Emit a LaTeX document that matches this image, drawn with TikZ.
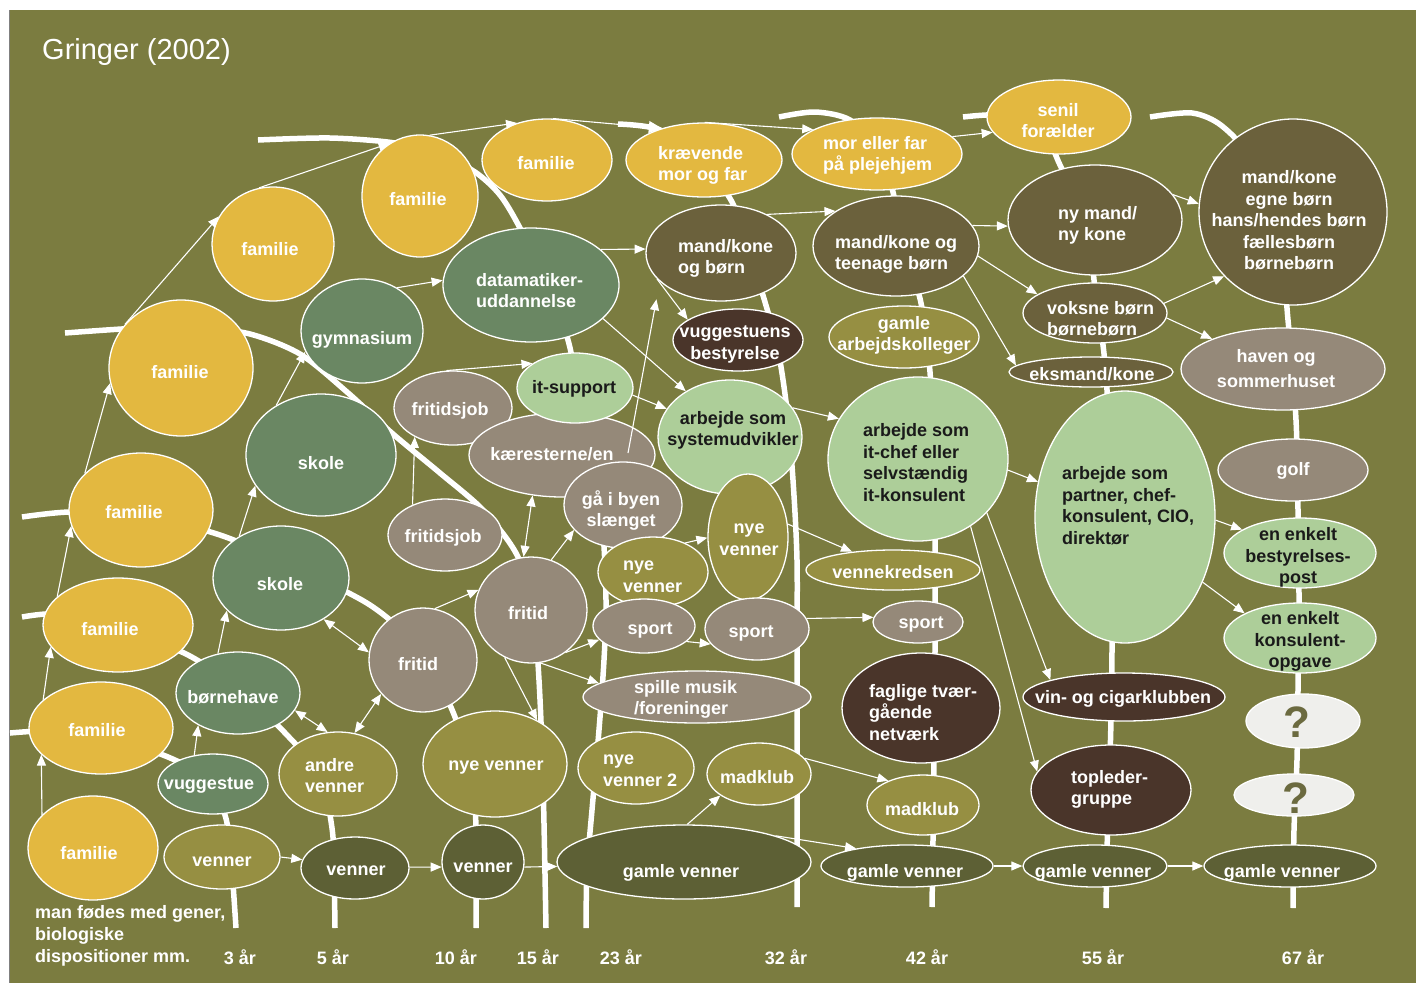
\documentclass[tikz,border=0pt]{standalone}
\usepackage{fontspec}
\setmainfont{Liberation Sans}
\usetikzlibrary{shapes.geometric,arrows.meta}
\definecolor{bg}{HTML}{7B7C40}
\definecolor{yel}{HTML}{E3B840}
\definecolor{sgr}{HTML}{6A8763}
\definecolor{tau}{HTML}{958979}
\definecolor{lgr}{HTML}{ADCE99}
\definecolor{dob}{HTML}{6B613C}
\definecolor{dbr}{HTML}{4A352A}
\definecolor{oly}{HTML}{968F42}
\definecolor{dol}{HTML}{5D6035}
\definecolor{qgr}{HTML}{EFEFEC}
\definecolor{qtx}{HTML}{6B6A3F}
\definecolor{tbk}{HTML}{1A1A1A}
\newcommand\ellnode[6]{\node[ell,fill=#6,minimum width=#4*2pt,minimum height=#5*2pt] (#1) at (#2,#3) {};}
\begin{document}
\begin{tikzpicture}[x=1pt,y=-1pt,
 ell/.style={ellipse,draw=white,line width=1.3pt,inner sep=0pt},
 txt/.style={text=white,font=\bfseries\fontsize{18}{21.5}\selectfont,inner sep=0pt,align=center,yshift=-2.5pt},
 txl/.style={txt,align=left,anchor=west},
 blk/.style={text=tbk},
 qtxt/.style={text=qtx,font=\bfseries\fontsize{44}{44}\selectfont,inner sep=0pt},
 arr/.style={draw=white,line width=1.1pt,-{Triangle[length=11pt,width=9pt]}},
 bigarr/.style={draw=white,line width=1.1pt,-{Triangle[length=13pt,width=12pt]}},
 darr/.style={draw=white,line width=1.1pt,{Triangle[length=11pt,width=9pt]}-{Triangle[length=11pt,width=9pt]}},
 age/.style={draw=white,line width=5.5pt},
 lab/.style={text=white,font=\bfseries\fontsize{18}{22}\selectfont,inner sep=0pt}]
\useasboundingbox (0,0) rectangle (1416,983);
\fill[white] (0,0) rectangle (1416,983);
\fill[bg] (9,10) rectangle (1416,983);
\draw[gray,line width=1pt] (9.5,10) -- (9.5,983);

% age lines
\draw[age] plot[smooth] coordinates {(10,733) (60,731) (120,742) (168,757) (205,778) (225,815) (231,858) (236,928)};
\draw[age] plot[smooth] coordinates {(22,617) (60,614) (120,628) (188,655) (240,690) (287,735) (320,775) (332,828) (334,870) (335,928)};
\draw[age] plot[smooth] coordinates {(22,517) (70,512) (140,515) (220,535) (290,565) (370,605) (420,650) (453,712) (472,775) (476,830) (476,928)};
\draw[age] plot[smooth] coordinates {(65,333) (140,328) (200,328) (250,334) (300,354) (347,392) (393,434) (440,473) (483,510) (517,555) (533,610) (539,680) (543,780) (546,928)};
\draw[age] plot[smooth] coordinates {(258,140) (330,138) (395,143) (440,155) (475,172) (500,195) (520,228) (548,285) (568,340) (578,390) (590,450) (602,520) (606,600) (604,660) (599,730) (592,810) (587,870) (586,928)};
\draw[age] plot[smooth] coordinates {(618,124) (660,130) (700,160) (732,202) (750,255) (765,302) (778,350) (787,410) (793,480) (797,560) (797,660) (797,907)};
\draw[age] plot[smooth] coordinates {(779,117) (815,112) (850,120) (880,150) (893,192) (905,250) (921,303) (930,372) (933,450) (935,540) (935,650) (934,760) (933,840) (932,907)};
\draw[age] plot[smooth] coordinates {(963,117) (1000,115) (1040,125) (1060,165) (1090,230) (1094,280) (1103,345) (1107,390) (1112,500) (1112,650) (1111,720) (1109,790) (1107,850) (1106,908)};
\draw[age] plot[smooth] coordinates {(1150,117) (1192,113) (1222,126) (1250,160) (1280,250) (1288,320) (1296,420) (1298,510) (1299,600) (1298,690) (1297,760) (1294,830) (1293,908)};

% ellipses
\ellnode{fA}{93}{848}{65}{52}{yel}
\ellnode{fB}{101}{728}{72}{46}{yel}
\ellnode{fC}{118}{625}{75}{47}{yel}
\ellnode{fD}{141}{510}{72}{57}{yel}
\ellnode{fE}{181}{368}{72}{68}{yel}
\ellnode{fF}{273}{244}{61}{57}{yel}
\ellnode{fG}{420}{196}{58}{61}{yel}
\ellnode{fH}{547}{160}{65}{41}{yel}
\ellnode{kraev}{704}{160}{78}{37}{yel}
\ellnode{moref}{877}{154}{85}{36}{yel}
\ellnode{senil}{1059}{117}{72}{37}{yel}
\ellnode{mkegne}{1293}{212}{94}{93}{dob}
\ellnode{vugg}{213}{784}{55}{30}{sgr}
\ellnode{born}{238}{693}{62}{41}{sgr}
\ellnode{skoleA}{281}{578}{68}{52}{sgr}
\ellnode{skoleB}{321}{455}{75}{61}{sgr}
\ellnode{gym}{362}{331}{61}{52}{sgr}
\ellnode{data}{531}{285}{88}{57}{sgr}
\ellnode{fjobA}{453}{408}{59}{37}{tau}
\ellnode{fjobB}{445}{535}{57}{36}{tau}
\ellnode{kaer}{562}{455}{93}{42}{tau}
\ellnode{itsup}{575}{388}{58}{35}{lgr}
\ellnode{gaa}{623}{505}{59}{43}{tau}
\ellnode{fritB}{531}{610}{56}{53}{tau}
\ellnode{fritA}{423}{660}{54}{52}{tau}
\ellnode{nyeB}{653}{572}{55}{35}{oly}
\ellnode{sportA}{644}{626}{51}{27}{tau}
\ellnode{sysud}{730}{437}{72}{57}{lgr}
\ellnode{nyeC}{748}{537}{40}{63}{oly}
\ellnode{sportB}{757}{629}{52}{31}{tau}
\ellnode{sportC}{918}{622}{45}{21}{tau}
\ellnode{spille}{697}{697}{114}{26}{tau}
\ellnode{haven}{1283}{369}{102}{41}{tau}
\ellnode{golf}{1293}{470}{75}{31}{tau}
\ellnode{itchef}{918}{459}{90}{82}{lgr}
\ellnode{partner}{1125}{517}{90}{126}{lgr}
\ellnode{best}{1300}{553}{76}{35}{lgr}
\ellnode{konsul}{1300}{638}{76}{35}{lgr}
\ellnode{mkborn}{721}{253}{75}{48}{dob}
\ellnode{teen}{896}{246}{83}{50}{dob}
\ellnode{nymand}{1095}{220}{87}{55}{dob}
\ellnode{voksne}{1095}{313}{72}{30}{dob}
\ellnode{eks}{1091}{372}{82}{15}{dob}
\ellnode{vbest}{738}{340}{65}{31}{dbr}
\ellnode{faglige}{921}{708}{79}{55}{dbr}
\ellnode{vin}{1124}{697}{101}{24}{dbr}
\ellnode{topl}{1111}{790}{80}{45}{dbr}
\ellnode{vennerA}{222}{857}{58}{32}{oly}
\ellnode{andre}{338}{774}{59}{42}{oly}
\ellnode{nyeA}{495}{764}{72}{53}{oly}
\ellnode{gamark}{904}{337}{75}{31}{oly}
\ellnode{vkreds}{893}{570}{87}{20}{oly}
\ellnode{nye2}{636}{768}{58}{36}{oly}
\ellnode{madA}{759}{774}{52}{31}{oly}
\ellnode{madB}{923}{805}{56}{30}{oly}
\ellnode{vennerB}{355}{868}{54}{31}{dol}
\ellnode{vennerC}{483}{862}{41}{37}{dol}
\ellnode{gamA}{684}{862}{127}{37}{dol}
\ellnode{gamB}{907}{866}{86}{21}{dol}
\ellnode{gamC}{1095}{866}{72}{21}{dol}
\ellnode{gamD}{1290}{866}{86}{21}{dol}
\ellnode{qA}{1303}{721}{57}{27}{qgr}
\ellnode{qB}{1294}{795}{60}{21}{qgr}

% arrows
\draw[arr] (fA.147) -- (fB.204);
\draw[arr] (fB.154) -- (fC.198);
\draw[arr] (fC.155) -- (fD.193);
\draw[arr] (fD.147) -- (fE.192);
\draw[arr] (fE.142) -- (fF.153);
\draw[arr] (fF.104) -- (fG.120);
\draw[arr] (fG.81) -- (fH.129);
\draw[bigarr] (fH.82) -- (kraev.143);
\draw[arr] (kraev.89) -- (moref.159);
\draw[arr] (moref.13) -- (senil.193);
\draw[arr] (nymand.18) -- (mkegne.175);
\draw[arr] (vugg.123) -- (born.219);
\draw[arr] (vennerA.0) -- (vennerB.171);
\draw[arr] (vennerB.1) -- (vennerC.187);
\draw[arr] (vennerC.353) -- (gamA.182);
\draw[arr] (gamA.85) -- (madA.209);
\draw[arr] (madA.19) -- (madB.145);
\draw[arr] (gamA.16) -- (gamB.161);
\draw[arr] (gamB.0) -- (gamC.180);
\draw[arr] (gamC.0) -- (gamD.180);
\draw[darr] (born.343) -- (andre.104);
\draw[darr] (andre.68) -- (fritA.219);
\draw[darr] (skoleA.316) -- (fritA.172);
\draw[arr] (born.117) -- (skoleA.211);
\draw[arr] (skoleA.135) -- (skoleB.205);
\draw[arr] (skoleB.132) -- (gym.200);
\draw[arr] (gym.51) -- (data.177);
\draw[arr] (fjobB.137) -- (fjobA.217);
\draw[arr] (fjobA.100) -- (itsup.150);
\draw[arr] (fritA.77) -- (fritB.159);
\draw[darr] (fritB.98) -- (kaer.234);
\draw[arr] (fritB.68) -- (gaa.207);
\draw[arr] (fritB.309) -- (sportA.197);
\draw[arr] (fritB.280) -- (spille.172);
\draw[arr] (fritB.241) -- (nyeA.46);
\draw[arr] (nyeB.42) -- (nyeC.181);
\draw[arr] (sportA.340) -- (sportB.198);
\draw[arr] (sportB.12) -- (sportC.174);
\draw[arr] (nyeC.18) -- (vkreds.156);
\draw[arr] (itsup.353) -- (sysud.156);
\draw[arr] (data.335) -- (sysud.134);
\draw[arr] (data.27) -- (mkborn.177);
\coordinate (kaerin) at (628,453);
\draw[arr,shorten >=18pt] (kaerin) -- (mkborn.205);
\draw[arr] (mkborn.202) -- (vbest.158);
\draw[arr] (mkborn.40) -- (teen.150);
\draw[arr] (sysud.25) -- (itchef.153);
\draw[arr] (teen.15) -- (nymand.184);
\draw[arr] (teen.353) -- (voksne.162);
\draw[arr] (teen.336) -- (eks.175);
\draw[arr] (voksne.8) -- (mkegne.223);
\draw[arr] (voksne.356) -- (haven.157);
\draw[arr] (itchef.353) -- (partner.158);
\draw[arr] (itchef.322) -- (vin.167);
\draw[arr] (itchef.308) -- (topl.166);
\draw[arr] (partner.358) -- (best.158);
\draw[arr] (partner.320) -- (konsul.156);

% texts
\node[anchor=west,text=white,font=\fontsize{29}{29}\selectfont,inner sep=0pt] (title) at (42,52) {Gringer (2002)};
\node[txt] (t1) at (89,851) {familie};
\node[txt] (t2) at (97,728) {familie};
\node[txt] (t3) at (110,627) {familie};
\node[txt] (t4) at (134,510) {familie};
\node[txt] (t5) at (180,370) {familie};
\node[txt] (t6) at (270,247) {familie};
\node[txt] (t7) at (418,197) {familie};
\node[txt] (t8) at (546,161) {familie};
\node[txl] (t9) at (658,163) {krævende\\mor og far};
\node[txl] (t10) at (823,153) {mor eller far\\på plejehjem};
\node[txt] (t11) at (1058,118) {senil\\forælder};
\node[txt] (t12) at (1289,218) {mand/kone\\egne børn\\hans/hendes børn\\fællesbørn\\børnebørn};
\node[txt] (t13) at (209,783) {vuggestue};
\node[txt] (t14) at (233,695) {børnehave};
\node[txt] (t15) at (280,582) {skole};
\node[txt] (t16) at (321,461) {skole};
\node[txt] (t17) at (362,337) {gymnasium};
\node[txl] (t18) at (476,288) {datamatiker-\\uddannelse};
\node[txt] (t19) at (450,408) {fritidsjob};
\node[txt] (t20) at (443,535) {fritidsjob};
\node[txt] (t21) at (552,452) {kæresterne/en};
\node[txt,blk] (t22) at (574,386) {it-support};
\node[txt] (t23) at (621,508) {gå i byen\\slænget};
\node[txt] (t24) at (528,611) {fritid};
\node[txt] (t25) at (418,662) {fritid};
\node[txt] (t26) at (650,628) {sport};
\node[txt] (t27) at (751,631) {sport};
\node[txt] (t28) at (921,622) {sport};
\node[txl] (t29) at (634,697) {spille musik\\/foreninger};
\node[txt] (t30) at (1276,366) {haven og\\[4pt]sommerhuset};
\node[txt] (t31) at (1293,468) {golf};
\node[txt,blk] (t32) at (733,428) {arbejde som\\systemudvikler};
\node[txl,blk] (t33) at (863,460) {arbejde som\\it-chef eller\\selvstændig\\it-konsulent};
\node[txl,blk] (t34) at (1062,503) {arbejde som\\partner, chef-\\konsulent, CIO,\\direktør};
\node[txt,blk] (t35) at (1298,555) {en enkelt\\bestyrelses-\\post};
\node[txt,blk] (t36) at (1300,639) {en enkelt\\konsulent-\\opgave};
\node[txl] (t37) at (678,256) {mand/kone\\og børn};
\node[txl] (t38) at (835,252) {mand/kone og\\teenage børn};
\node[txl] (t39) at (1058,223) {ny mand/\\ny kone};
\node[txl] (t40) at (1047,316) {voksne børn\\børnebørn};
\node[txt] (t41) at (1092,372) {eksmand/kone};
\node[txt] (t42) at (735,342) {vuggestuens\\bestyrelse};
\node[txl] (t43) at (869,710) {faglige tvær-\\gående\\netværk};
\node[txt] (t44) at (1123,696) {vin- og cigarklubben};
\node[txl] (t45) at (1071,787) {topleder-\\gruppe};
\node[txt] (t46) at (222,859) {venner};
\node[txl] (t47) at (305,773) {andre\\venner};
\node[txt] (t48) at (496,765) {nye venner};
\node[txl] (t49) at (623,574) {nye\\venner};
\node[txt] (t50) at (749,537) {nye\\venner};
\node[txt] (t51) at (904,333) {gamle\\arbejdskolleger};
\node[txt] (t52) at (893,570) {vennekredsen};
\node[txl] (t53) at (603,768) {nye\\venner 2};
\node[txt] (t54) at (757,775) {madklub};
\node[txt] (t55) at (922,807) {madklub};
\node[txt] (t56) at (356,868) {venner};
\node[txt] (t57) at (483,865) {venner};
\node[txt] (t58) at (681,870) {gamle venner};
\node[txt] (t59) at (905,870) {gamle venner};
\node[txt] (t60) at (1093,870) {gamle venner};
\node[txt] (t61) at (1282,870) {gamle venner};
\node[qtxt] (t62) at (1297,722) {?};
\node[qtxt] (t63) at (1296,798) {?};

\node[lab,anchor=west,align=left] (born-lab) at (35,936) {man fødes med gener,\\biologiske\\dispositioner mm.};
\node[lab] (a3) at (240,957) {3 år};
\node[lab] (a5) at (333,957) {5 år};
\node[lab] (a10) at (456,957) {10 år};
\node[lab] (a15) at (538,957) {15 år};
\node[lab] (a23) at (621,957) {23 år};
\node[lab] (a32) at (786,957) {32 år};
\node[lab] (a42) at (927,957) {42 år};
\node[lab] (a55) at (1103,957) {55 år};
\node[lab] (a67) at (1303,957) {67 år};
\end{tikzpicture}
\end{document}
